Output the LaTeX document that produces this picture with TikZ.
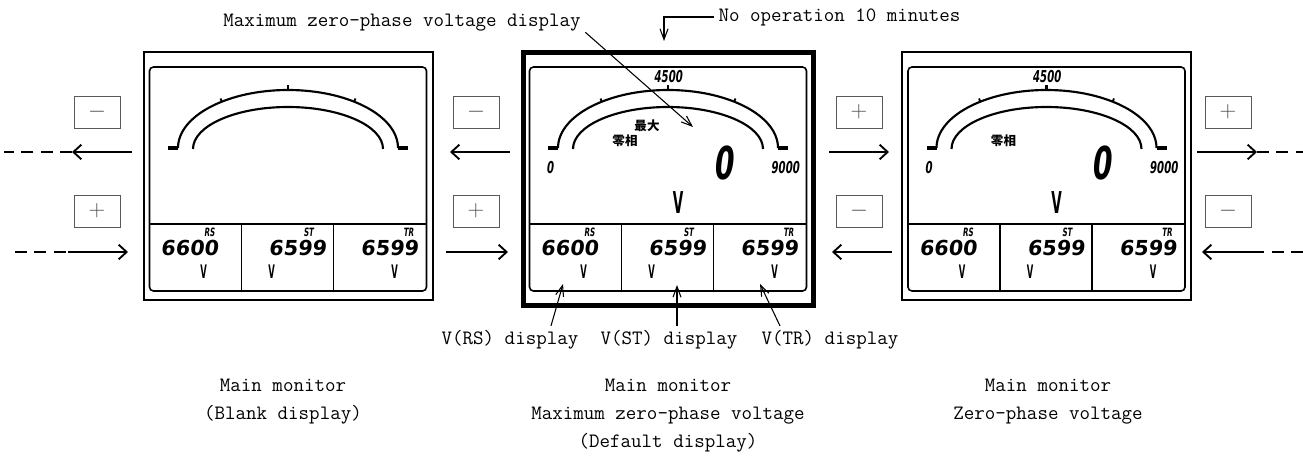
\documentclass[tikz,border=0pt]{standalone}
\usepackage{fontspec}
\usepackage{tikz}
\usetikzlibrary{arrows.meta, positioning}
\setmonofont{Latin Modern Mono}
\newfontfamily\segfont{DejaVu Sans}[FakeSlant=0.12]
\newfontfamily\segcond{DejaVu Sans}[FakeSlant=0.12, FakeStretch=0.62]
\newfontfamily\segthin{DejaVu Sans}[FakeStretch=0.45]
\newfontfamily\cjk{Noto Sans CJK JP}

\begin{document}
\begin{tikzpicture}[x=0.75pt, y=-0.75pt,
        % one mono font for every annotation
        font=\fontsize{15.3}{21}\selectfont\ttfamily,
        % styles for the monitors, keys and arrows
        monframe/.style={line width=1.5pt},
        panel/.style={line width=1.2pt, rounded corners=3pt},
        dial/.style={line width=1.6pt},
        btn/.style={draw=black!65, line width=0.6pt, minimum width=34.5pt, minimum height=24pt, inner sep=0pt, text=black!70, font=\fontsize{16}{16}\selectfont},
        flow/.style={-{Straight Barb[length=6pt, width=11pt]}, line width=1.4pt},
        trail/.style={line width=1.5pt, dash pattern=on 9pt off 5.5pt},
        callout/.style={-{Straight Barb[length=8pt, width=6pt]}, line width=0.8pt},
        lcd/.style={inner sep=0pt, font=\fontsize{15.5}{15.5}\selectfont\segfont\bfseries},
        lcdsmall/.style={inner sep=0pt, font=\fontsize{12.3}{12.3}\selectfont\segcond\bfseries},
        lcdtag/.style={inner sep=0pt, font=\fontsize{8.6}{8.6}\selectfont\segcond\bfseries},
        lcdbig/.style={inner sep=0pt, font=\fontsize{34}{34}\selectfont\segcond\bfseries},
        unit/.style={inner sep=0pt, font=\fontsize{14}{14}\selectfont\segthin\bfseries},
        unitbig/.style={inner sep=0pt, font=\fontsize{22.6}{22.6}\selectfont\segthin\bfseries},
        kanji/.style={inner sep=0pt, font=\fontsize{9.4}{9.4}\selectfont\cjk\bfseries}
    ]

    \useasboundingbox (0,0) rectangle (1303,456);

    % monitor housings
    \draw[monframe] (143.5,52) rectangle (432.5,300);
    \draw[line width=3.75pt] (523,52.5) rectangle (813,305.5);
    \draw[monframe] (902,52) rectangle (1191,300);

    \foreach \cx/\m in {288/L, 668/M, 1046.5/R} {
        \draw[panel] (\cx-138.5,67) rectangle (\cx+138.5,291);
        \draw[line width=1.2pt] (\cx-138.5,224) -- (\cx+138.5,224);
        \foreach \dx in {-46.5, 45.5} {
            \draw[line width=1.2pt] (\cx+\dx,224) -- (\cx+\dx,291);
        }
        % dial
        \draw[dial] (\cx-110,148) arc[start angle=180, end angle=360, x radius=110, y radius=58];
        \draw[dial] (\cx-95,149) arc[start angle=180, end angle=360, x radius=95, y radius=42];
        \draw[line width=2.4pt] (\cx-120,148) -- (\cx-110,148) (\cx+110,148) -- (\cx+120,148);
        \draw[line width=2pt] (\cx,91) -- (\cx,85);
        \draw[line width=1.4pt] (\cx-66,102) -- ++(-1.5,-3.5) (\cx+66,102) -- ++(1.5,-3.5);
        % line voltages
        \node[lcdtag] (rs\m) at (\cx-78.5,232) {RS};
        \node[lcd] (vrs\m) at (\cx-98.5,248) {6600};
        \node[unit] (urs\m) at (\cx-84.5,272) {V};
        \node[lcdtag] (st\m) at (\cx+20.5,232) {ST};
        \node[lcd] (vst\m) at (\cx+9.5,248) {6599};
        \node[unit] (ust\m) at (\cx-16.5,272) {V};
        \node[lcdtag] (tr\m) at (\cx+120.5,232) {TR};
        \node[lcd] (vtr\m) at (\cx+101.5,248) {6599};
        \node[unit] (utr\m) at (\cx+106.5,272) {V};
    }

    \foreach \cx/\m in {668/M, 1046.5/R} {
        \node[lcdsmall] (mid\m) at (\cx,77) {4500};
        \node[lcdsmall] (lo\m) at (\cx-118,168) {0};
        \node[lcdsmall] (hi\m) at (\cx+117,168) {9000};
        \node[lcdbig] (val\m) at (\cx+55,163) {0};
        \node[unitbig] (unit\m) at (\cx+10,203) {V};
        \node[kanji] (zero\m) at (\cx-43,141) {零相};
    }
    \node[kanji] (maxM) at (647,126) {最大};

    % keys
    \node[btn] (keyA) at (97,112) {$-$};
    \node[btn] (keyB) at (476,112) {$-$};
    \node[btn] (keyC) at (859,112) {$+$};
    \node[btn] (keyD) at (1228,112) {$+$};
    \node[btn] (keyE) at (97,211) {$+$};
    \node[btn] (keyF) at (476,211) {$+$};
    \node[btn] (keyG) at (859,211) {$-$};
    \node[btn] (keyH) at (1228,211) {$-$};

    % arrow ends
    \coordinate (u1a) at (132,152);  \coordinate (u1b) at (72,152);  \coordinate (u1c) at (4,152);
    \coordinate (u2a) at (510,152);  \coordinate (u2b) at (450,152);
    \coordinate (u3a) at (829,152);  \coordinate (u3b) at (889,152);
    \coordinate (u4a) at (1197,152); \coordinate (u4b) at (1257,152); \coordinate (u4c) at (1303,152);
    \coordinate (d1a) at (15,252);   \coordinate (d1b) at (68,252);   \coordinate (d1c) at (128,252);
    \coordinate (d2a) at (446,252);  \coordinate (d2b) at (508,252);
    \coordinate (d3a) at (892,252);  \coordinate (d3b) at (832,252);
    \coordinate (d4a) at (1303,252); \coordinate (d4b) at (1262,252); \coordinate (d4c) at (1202,252);

    \draw[flow] (u1a) -- (u1b);
    \draw[trail] (u1b) -- (u1c);
    \draw[flow] (u2a) -- (u2b);
    \draw[flow] (u3a) -- (u3b);
    \draw[flow] (u4a) -- (u4b);
    \draw[trail] (u4b) -- (u4c);
    \draw[trail] (d1a) -- (d1b);
    \draw[flow] (d1b) -- (d1c);
    \draw[flow] (d2a) -- (d2b);
    \draw[flow] (d3a) -- (d3b);
    \draw[trail] (d4a) -- (d4b);
    \draw[flow] (d4b) -- (d4c);

    % annotations
    \node (maxlbl) at (402,23) {Maximum zero-phase voltage display};
    \coordinate (maxtip) at (693,127);
    \draw[callout] ([yshift=3pt]maxlbl.south east) -- (maxtip);

    \node[anchor=west] (noop) at (714,17) {No operation 10 minutes};
    \coordinate (idle) at (664,41);
    \draw[callout] (noop.west) -| (idle);

    \node (vrs) at (510,340) {V(RS) display};
    \node (vst) at (669,340) {V(ST) display};
    \node (vtr) at (830,340) {V(TR) display};
    \coordinate (rsTip) at (563,284);
    \coordinate (stTip) at (677,285);
    \coordinate (trTip) at (760,284);
    \draw[callout] ([xshift=30.75pt]vrs.north) -- (rsTip);
    \draw[callout] ([xshift=6pt]vst.north) -- (stTip);
    \draw[callout] ([xshift=-37.5pt]vtr.north) -- (trTip);

    \node[align=center] (capL) at (283,402) {Main monitor\\(Blank display)};
    \node[align=center] (capM) at (668,416) {Main monitor\\Maximum zero-phase voltage\\(Default display)};
    \node[align=center] (capR) at (1048,402) {Main monitor\\Zero-phase voltage};

\end{tikzpicture}
\end{document}
